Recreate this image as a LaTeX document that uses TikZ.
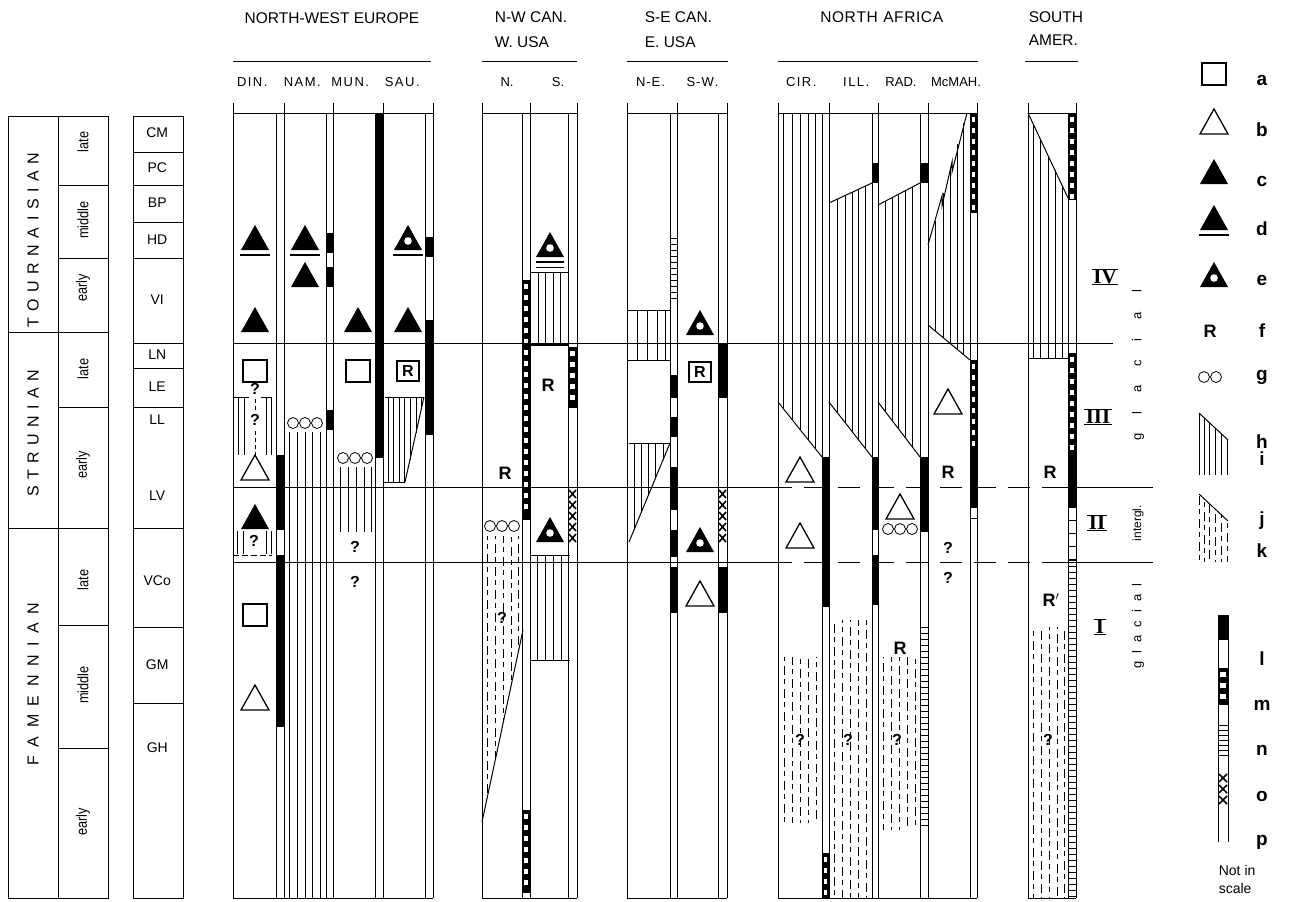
\documentclass[tikz,border=0pt]{standalone}
\usepackage{fontspec}
\setmainfont{Liberation Sans}
\newfontfamily\romf{Liberation Serif}
\makeatletter
\def\lsp@end{\lsp@end}
\newcommand{\lsp}[2]{\def\lsp@k{#1}\lsp@loop#2\lsp@end}
\def\lsp@loop#1{\ifx#1\lsp@end\else#1\kern\lsp@k\relax\expandafter\lsp@loop\fi}
\makeatother
\newcommand{\cnd}[1]{\scalebox{0.85}[1]{#1}}
\tikzset{
  hl/.style={line width=0.8pt},
  kd/.style={dash pattern=on 9pt off 4pt on 5pt off 5pt},
  hdr/.style={font=\fontsize{15.5}{15.5}\selectfont},
  sub/.style={font=\fontsize{13}{13}\selectfont},
  tab/.style={font=\fontsize{14}{14}\selectfont},
  rot/.style={rotate=90,font=\fontsize{15}{15}\selectfont},
  stg/.style={rotate=90,font=\fontsize{16}{16}\selectfont},
  leg/.style={font=\bfseries\fontsize{19}{19}\selectfont},
}
\newcommand{\sqa}[2]{\draw[line width=1.6pt] ({#1-12},{#2-11}) rectangle ({#1+12},{#2+11});}
\newcommand{\trb}[2]{\draw[line width=1.3pt,line join=miter] ({#1-14},{#2+12}) -- ({#1+14},{#2+12}) -- (#1,{#2-13}) -- cycle;}
\newcommand{\trc}[2]{\fill ({#1-14},{#2+12}) -- ({#1+14},{#2+12}) -- (#1,{#2-13}) -- cycle;}
\newcommand{\trd}[2]{\trc{#1}{#2}\draw[line width=1.4pt] ({#1-15},{#2+17}) -- ({#1+15},{#2+17});}
\newcommand{\tre}[2]{\trc{#1}{#2}\fill[white] (#1,{#2+3}) circle (3.8);}
\newcommand{\boxr}[2]{\draw[line width=1.6pt] ({#1-11},{#2-10}) rectangle ({#1+11},{#2+10});
  \node[font=\bfseries\fontsize{16}{16}\selectfont] at (#1,#2) {R};}
\newcommand{\ooo}[2]{\foreach \k in {-1,0,1} \draw[hl] ({#1+\k*12},#2) circle (5.5);}
\newcommand{\Rl}[2]{\node[font=\bfseries\fontsize{18}{18}\selectfont] at (#1,#2) {R};}
\newcommand{\qm}[2]{\node[font=\bfseries\fontsize{16}{16}\selectfont] at (#1,#2) {?};}
\newcommand{\Mstrip}[4]{\fill (#1,#3) rectangle (#2,#4);
  \pgfmathtruncatemacro{\mN}{(#4-#3-10)/11}
  \foreach \i in {0,...,\mN}{\fill[white] ({#1+2},{#3+4+\i*11}) rectangle ({#2-2},{#3+9+\i*11});}}
\newcommand{\Nstrip}[5]{\pgfmathtruncatemacro{\nN}{(#4-#3)/#5}
  \foreach \i in {0,...,\nN}{\draw[hl] (#1,{#3+\i*#5}) -- (#2,{#3+\i*#5});}}
\newcommand{\Ostrip}[4]{\pgfmathtruncatemacro{\oN}{(#4-#3-8)/11}
  \foreach \i in {0,...,\oN}{\pgfmathsetmacro{\oy}{#3+6+\i*11}
    \draw[line width=1.6pt] ({#1+1},{\oy-4}) -- ({#2-1},{\oy+4}) ({#1+1},{\oy+4}) -- ({#2-1},{\oy-4});}}
\newcommand{\VHatch}[8][]{\foreach \hx in {#2}{%
  \pgfmathsetmacro{\hta}{#5+(\hx-#3)*(#6-#5)/(#4-#3)}%
  \pgfmathsetmacro{\htb}{#7+(\hx-#3)*(#8-#7)/(#4-#3)}%
  \pgfmathsetmacro{\hph}{mod(\hx*7,23)}%
  \draw[hl,#1,dash phase=\hph pt] (\hx,\hta) -- (\hx,\htb);}}
\newcommand{\Rom}[3]{\node[font=\romf\bfseries\fontsize{21}{21}\selectfont,inner sep=0pt,text depth=0pt] (#1) at (#2) {#3};
  \draw[line width=1.3pt] ([xshift=-1pt]#1.north west) -- ([xshift=1pt]#1.north east);
  \draw[line width=1.3pt] ([xshift=-1pt]#1.south west) -- ([xshift=1pt]#1.south east);}
\begin{document}
\begin{tikzpicture}[x=1pt,y=-1pt,line width=1pt]
\useasboundingbox (0,0) rectangle (1299,902);
\fill[white] (0,0) rectangle (1299,902);

% ---------------- left time tables
\draw (8,116) rectangle (108,898);
\draw (58,116) -- (58,898);
\draw (8,332) -- (58,332); \draw (8,528) -- (58,528);
\foreach \y in {185,258,332,407,528,625,748} \draw (58,\y) -- (108,\y);
\node[stg] (tou) at (33,237) {\lsp{6.5pt}{TOURNAISIAN}};
\node[stg] (str) at (33,430) {\lsp{6.5pt}{STRUNIAN}};
\node[stg] (fam) at (33,680) {\lsp{8.5pt}{FAMENNIAN}};
\node[rot] (s1) at (83,142) {\cnd{late}};
\node[rot] (s2) at (83,220) {\cnd{middle}};
\node[rot] (s3) at (83,288) {\cnd{early}};
\node[rot] (s4) at (83,369) {\cnd{late}};
\node[rot] (s5) at (83,465) {\cnd{early}};
\node[rot] (s6) at (83,580) {\cnd{late}};
\node[rot] (s7) at (83,685) {\cnd{middle}};
\node[rot] (s8) at (83,822) {\cnd{early}};

\draw (133,116) rectangle (183,898);
\foreach \y in {152,185,222,258,343,368,407,528,627,703} \draw (133,\y) -- (183,\y);
\foreach \n/\t/\y in {cm/CM/133,pc/PC/168,bp/BP/203,hd/HD/240,vi/VI/300,ln/LN/355,le/LE/387,ll/LL/420,lv/LV/496,vco/VCo/581,gm/GM/665,gh/GH/748}
  \node[tab] (\n) at (158,\y) {\lsp{1.5pt}{\t}};

% ---------------- headers
\node[hdr] (hnwe) at (332,18) {NORTH-WEST EUROPE};
\draw (233,61) -- (431,61);
\node[sub] (hdin) at (253,82) {\lsp{1.5pt}{DIN.}};
\node[sub] (hnam) at (303,82) {\lsp{1.5pt}{NAM.}};
\node[sub] (hmun) at (351,82) {\lsp{1.5pt}{MUN.}};
\node[sub] (hsau) at (403,82) {\lsp{1.5pt}{SAU.}};
\node[hdr,anchor=west] (hnw1) at (491,17) {N-W CAN.};
\node[hdr,anchor=west] (hnw2) at (491,42) {W. USA};
\draw (482,61) -- (577,61);
\node[sub] (hn) at (507,82) {N.};
\node[sub] (hs) at (558,82) {S.};
\node[hdr,anchor=west] (hse1) at (641,17) {S-E CAN.};
\node[hdr,anchor=west] (hse2) at (641,42) {E. USA};
\draw (627,61) -- (728,61);
\node[sub] (hne) at (651,82) {\lsp{1pt}{N-E.}};
\node[sub] (hsw) at (703,82) {\lsp{1pt}{S-W.}};
\node[hdr] (hna) at (882,17) {\lsp{0.6pt}{NORTH~AFRICA}};
\draw (778,61) -- (978,61);
\node[sub] (hcir) at (802,82) {\lsp{1.5pt}{CIR.}};
\node[sub] (hill) at (857,82) {\lsp{1.5pt}{ILL.}};
\node[sub] (hrad) at (901,82) {RAD.};
\node[sub] (hmc) at (956,82) {McMAH.};
\node[hdr,anchor=west] (hsa1) at (1025,17) {SOUTH};
\node[hdr,anchor=west] (hsa2) at (1025,40) {AMER.};
\draw (1025,61) -- (1078,61);

% ---------------- NORTH-WEST EUROPE
\foreach \x in {233,284,333,383,433} \draw (\x,103) -- (\x,898);
\foreach \x in {276,326,375,425} \draw (\x,113) -- (\x,898);
\draw (233,113) -- (433,113); \draw (233,898) -- (433,898);
% DIN
\trd{255}{238} \trc{255}{320} \sqa{255}{371}
\draw (233,397) -- (249,397) (261,397) -- (272,397);
\foreach \x in {238,244,266,271} \draw[hl] (\x,397) -- (\x,455);
\qm{255}{389} \qm{255}{420}
\draw[hl,dash pattern=on 4pt off 3pt] (255,399) -- (255,410) (255,431) -- (255,455);
\trb{255}{468} \trc{255}{517}
\foreach \x in {237,243,266,271} \draw[hl] (\x,531) -- (\x,554);
\draw[dash pattern=on 6pt off 3pt] (233,555) -- (272,555);
\qm{254}{541}
\sqa{255}{615} \trb{255}{698}
\fill (276,455) rectangle (284,530); \fill (276,555) rectangle (284,727);
% NAM
\trd{305}{238} \trc{305}{275} \ooo{305}{423}
\foreach \x in {289,297,305,312,320} \draw[hl] (\x,432) -- (\x,898);
\fill (326,233) rectangle (333,253); \fill (326,267) rectangle (333,287); \fill (326,410) rectangle (333,430);
% MUN
\trc{358}{320} \sqa{358}{371} \ooo{355}{458}
\foreach \x in {340,348,356,364,371} \draw[hl] (\x,467) -- (\x,532);
\qm{355}{547} \qm{355}{582}
\fill (375,113) rectangle (383,458);
% SAU
\tre{408}{238} \draw[line width=1.4pt] (393,255) -- (423,255);
\trc{408}{320} \boxr{408}{371}
\draw (385,397) -- (424,397);
\foreach \x in {388,393,399,404} \draw[hl] (\x,397) -- (\x,482);
\draw[hl] (410,397) -- (410,460) (416,397) -- (416,433) (421,397) -- (421,410);
\draw (424,397) -- (405,482); \draw (384,482) -- (405,482);
\fill (425,237) rectangle (433,257); \fill (425,320) rectangle (433,435);

% ---------------- N-W CAN / W. USA
\foreach \x in {482,530,577} \draw (\x,103) -- (\x,898);
\foreach \x in {522,568} \draw (\x,113) -- (\x,898);
\draw (482,113) -- (577,113); \draw (482,898) -- (577,898);
\Mstrip{522}{530}{280}{520} \Mstrip{522}{530}{810}{893}
\tre{550}{245}
\draw[line width=1.4pt] (536,262) -- (564,262); \draw[hl] (536,267) -- (564,267);
\draw (530,272) -- (568,272);
\foreach \x in {538,545,553,560} \draw[hl] (\x,272) -- (\x,343);
\draw[line width=2.5pt] (530,345) -- (568,345);
\Rl{548}{385}
\Mstrip{568}{577}{347}{408}
\Rl{505}{473}
\Ostrip{568}{577}{488}{542}
\tre{550}{530}
\draw (530,555) -- (570,555); \draw (530,660) -- (570,660);
\foreach \x in {537,545,553,561} \draw[hl] (\x,555) -- (\x,660);
\ooo{502}{526}
\VHatch[kd]{487,495,503,511,518}{482}{522}{536}{536}{822}{630}
\draw (523,630) -- (482,822);
\qm{502}{618}

% ---------------- S-E CAN / E. USA
\foreach \x in {627,677,727} \draw (\x,103) -- (\x,898);
\foreach \x in {670,718} \draw (\x,113) -- (\x,898);
\draw (627,113) -- (727,113); \draw (627,898) -- (727,898);
\draw (627,310) -- (670,310); \draw (627,360) -- (670,360);
\foreach \x in {637,647,657,665} \draw[hl] (\x,310) -- (\x,360);
\draw (629,443) -- (670,443); \draw (670,443) -- (629,542);
\VHatch{634,641,648,655,663}{629}{670}{443}{443}{542}{443}
\Nstrip{670}{677}{238}{300}{6}
\fill (670,375) rectangle (677,398); \fill (670,417) rectangle (677,437);
\fill (670,467) rectangle (677,510); \fill (670,530) rectangle (677,557);
\fill (670,567) rectangle (677,613);
\tre{700}{323} \boxr{700}{372} \tre{700}{540} \trb{700}{594}
\fill (718,343) rectangle (727,398);
\Ostrip{718}{727}{488}{542}
\fill (718,567) rectangle (727,613);

% ---------------- NORTH AFRICA
\foreach \x in {778,829,878,928,977} \draw (\x,103) -- (\x,898);
\foreach \x in {822,872,920,970} \draw (\x,113) -- (\x,898);
\draw (778,113) -- (977,113); \draw (778,898) -- (977,898);
% CIR
\VHatch{783,792,800,808,815}{778}{822}{113}{113}{402}{457}
\draw (778,402) -- (822,457);
\fill (822,457) rectangle (829,607);
\Mstrip{822}{829}{853}{898}
\trb{800}{470} \trb{800}{536}
\VHatch[kd]{784,792,800,808,816}{778}{822}{657}{657}{823}{823}
\qm{800}{740}
% ILL
\VHatch{837,845,852,858,865}{829}{872}{203}{183}{402}{457}
\draw (829,203) -- (872,183); \draw (829,402) -- (872,457);
\fill (872,163) rectangle (878,183); \fill (872,457) rectangle (878,530); \fill (872,555) rectangle (878,605);
\VHatch[kd]{834,842,850,858,866}{829}{872}{620}{620}{898}{898}
\qm{848}{740}
% RAD
\VHatch{885,892,898,905,912}{878}{920}{205}{183}{402}{457}
\draw (878,205) -- (920,183); \draw (878,402) -- (920,457);
\fill (920,163) rectangle (928,183); \fill (920,457) rectangle (928,532);
\Nstrip{920}{928}{627}{827}{6}
\trb{900}{507} \ooo{900}{529}
\Rl{900}{648}
\VHatch[kd]{883,891,899,907,915}{878}{920}{657}{657}{830}{830}
\qm{897}{740}
% McMAH
\VHatch{935,943,950,957,963}{928}{966}{245}{113}{325}{357}
\draw (928,245) -- (942,196) -- (942,206) -- (952,162) -- (952,172) -- (967,113);
\draw (928,325) -- (970,360);
\Mstrip{970}{977}{113}{213} \Mstrip{970}{977}{360}{453}
\fill (970,453) rectangle (977,508); \draw (970,518) -- (977,518);
\trb{948}{402} \Rl{948}{472} \qm{948}{548} \qm{948}{578}

% ---------------- SOUTH AMER.
\foreach \x in {1028,1076} \draw (\x,103) -- (\x,898);
\draw (1068,113) -- (1068,898);
\draw (1028,113) -- (1076,113); \draw (1028,898) -- (1076,898);
\VHatch{1033,1040,1048,1055,1062}{1028}{1068}{113}{198}{358}{358}
\draw (1028,113) -- (1068,198); \draw (1028,358) -- (1068,358);
\Mstrip{1068}{1076}{113}{200} \Mstrip{1068}{1076}{353}{453}
\fill (1068,453) rectangle (1076,507);
\Nstrip{1068}{1076}{507}{560}{13} \Nstrip{1068}{1076}{560}{898}{6}
\Rl{1050}{472}
\node[font=\bfseries\fontsize{18}{18}\selectfont] (rp) at (1051,600) {R$'$};
\VHatch[kd]{1033,1041,1049,1057,1064}{1028}{1068}{627}{627}{898}{898}
\qm{1048}{740}

% ---------------- time lines
\draw (233,343) -- (1113,343);
\foreach \y in {487,562}{
  \draw (233,\y) -- (770,\y);
  \draw[dash pattern=on 22pt off 12pt] (770,\y) -- (1062,\y);
  \draw (1062,\y) -- (1153,\y);}

% ---------------- stages
\Rom{r4}{1105,277}{IV}
\Rom{r3}{1098,417}{III}
\Rom{r2}{1097,523}{II}
\Rom{r1}{1100,627}{I}
\node[rot,font=\fontsize{13}{13}\selectfont] (gl1) at (1138,356) {\lsp{19pt}{glacial}};
\node[rot,font=\fontsize{12}{12}\selectfont] (ig) at (1138,523) {intergl.};
\node[rot,font=\fontsize{13}{13}\selectfont] (gl2) at (1138,622) {\lsp{8pt}{glacial}};

% ---------------- legend
\sqa{1214}{74} \trb{1214}{122} \trc{1214}{172} \trd{1214}{218} \tre{1214}{275}
\node[font=\bfseries\fontsize{18}{18}\selectfont] (lf) at (1210,331) {R};
\draw[hl] (1204,377) circle (5.5); \draw[hl] (1216,377) circle (5.5);
\VHatch{1199,1204,1209,1215,1221,1227}{1199}{1227}{413}{439}{475}{475}
\draw (1199,413) -- (1228,440);
\VHatch[kd]{1199,1204,1209,1215,1221,1227}{1199}{1227}{494}{520}{562}{562}
\draw (1199,494) -- (1228,521);
\draw (1218,615) -- (1218,842); \draw (1228,615) -- (1228,842);
\fill (1218,615) rectangle (1228,640);
\Mstrip{1218}{1228}{668}{705}
\Nstrip{1218}{1228}{725}{755}{5}
\Ostrip{1218}{1228}{772}{810}
\foreach \n/\t/\y in {la/a/80,lb/b/130,lc/c/181,ld/d/229,le2/e/280,lf2/f/331,lg/g/377,lh/h/442,li/i/459,lj/j/521,lk/k/551,ll2/l/659,lm/m/705,ln2/n/750,lo/o/796,lp/p/842}
  \node[leg] (\n) at (1262,\y) {\t};
\node[anchor=west,font=\fontsize{14}{14}\selectfont] (nis) at (1215,870) {Not in};
\node[anchor=west,font=\fontsize{14}{14}\selectfont] (sca) at (1215,888) {scale};
\end{tikzpicture}
\end{document}
